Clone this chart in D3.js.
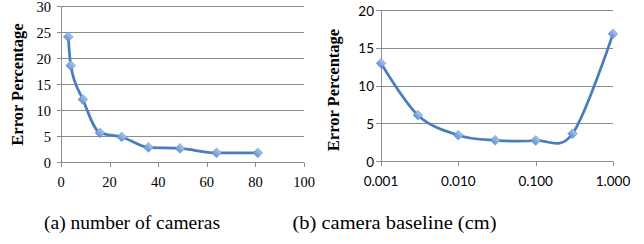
<!DOCTYPE html>
<html><head><meta charset="utf-8">
<script src="https://cdn.jsdelivr.net/npm/d3@7"></script>
<style>body{margin:0;background:#fff}svg{display:block}</style>
</head><body>
<script>
// Chart (a): number of cameras
const camCounts = [3, 4, 9, 16, 25, 36, 49, 64, 81];
const camErrors = [24.0, 18.5, 12.0, 5.6, 4.8, 2.8, 2.6, 1.75, 1.75];
const camXTicks = [0, 20, 40, 60, 80, 100];
const camYTicks = [0, 5, 10, 15, 20, 25, 30];
// Chart (b): camera baseline (cm)
const baselines = [0.001, 0.003, 0.01, 0.03, 0.1, 0.3, 1.0];
const baseErrors = [12.95, 6.1, 3.45, 2.78, 2.75, 3.65, 16.85];
const baseXTicks = [0.001, 0.01, 0.1, 1.0];
const baseYTicks = [0, 5, 10, 15, 20];
const captions = ["(a) number of cameras", "(b) camera baseline (cm)"];
const yTitle = "Error Percentage";

const W = 644, H = 244;
const svg = d3.select("body").append("svg").attr("width", W).attr("height", H);
const gridCol = "#8c8c8c", lineCol = "#4a7ebb";
const SERIF = "'Liberation Serif', 'Times New Roman', serif";

const defs = svg.append("defs");
const grad = defs.append("linearGradient").attr("id","mg").attr("x1",0).attr("y1",0).attr("x2",0).attr("y2",1);
grad.append("stop").attr("offset","0%").attr("stop-color","#a4c6ee");
grad.append("stop").attr("offset","100%").attr("stop-color","#6593d2");

function drawChart(o) {
  const g = svg.append("g");
  const x = o.x, y = o.y;
  g.selectAll(".grid").data(o.yTicks).join("line")
    .attr("x1", x.range()[0] - o.ytick).attr("x2", x.range()[1])
    .attr("y1", d => Math.round(y(d)) + 0.5).attr("y2", d => Math.round(y(d)) + 0.5)
    .attr("stroke", gridCol).attr("stroke-width", 1);
  g.append("line").attr("x1", Math.round(x.range()[0]) + 0.5).attr("x2", Math.round(x.range()[0]) + 0.5)
    .attr("y1", Math.round(y.range()[0]) + 0.5).attr("y2", Math.round(y.range()[1]) + 0.5).attr("stroke", gridCol);
  g.selectAll(".xt").data(o.xTicks).join("line")
    .attr("x1", d => Math.round(x(d)) + 0.5).attr("x2", d => Math.round(x(d)) + 0.5)
    .attr("y1", Math.round(y(0)) + 0.5).attr("y2", Math.round(y(0)) + 5).attr("stroke", gridCol);
  g.selectAll(".yl").data(o.yTicks).join("text")
    .attr("x", o.yLabelX).attr("y", d => y(d)).attr("dy", "0.42em")
    .attr("text-anchor", "end").attr("font-family", o.tickFamily).attr("font-size", o.tickSize)
    .attr("fill", "#000").text(d => d);
  g.selectAll(".xl").data(o.xTicks).join("text")
    .attr("x", d => x(d)).attr("y", o.xLabelY)
    .attr("text-anchor", "middle").attr("font-family", o.tickFamily).attr("font-size", o.tickSize)
    .attr("fill", "#000").text(o.xFmt);
  g.append("text").attr("transform", `translate(${o.titleX},${o.titleY}) rotate(-90)`)
    .attr("text-anchor", "middle").attr("font-family", SERIF).attr("font-weight", "bold")
    .attr("font-size", 16.5).text(yTitle);
  const pts = o.xs.map((d, i) => [x(d), y(o.ys[i])]);
  g.append("path").attr("d", d3.line().curve(o.curve)(pts))
    .attr("fill", "none").attr("stroke", lineCol).attr("stroke-width", 2.75)
    .attr("stroke-linejoin", "round");
  g.selectAll(".m").data(pts).join("path")
    .attr("d", d3.symbol(d3.symbolSquare, 48)())
    .attr("transform", d => `translate(${d[0]},${d[1]}) rotate(45)`)
    .attr("fill", "url(#mg)").attr("stroke", "#5b8ccc").attr("stroke-width", 0.5);
  svg.append("text").attr("x", o.capX).attr("y", 229).attr("text-anchor", "middle")
    .attr("font-family", SERIF).attr("font-size", 19)
    .attr("textLength", o.capW).attr("lengthAdjust", "spacingAndGlyphs").text(o.caption);
}

drawChart({
  x: d3.scaleLinear().domain([0, 100]).range([61, 304]),
  y: d3.scaleLinear().domain([0, 30]).range([162, 5.5]),
  xs: camCounts, ys: camErrors, xTicks: camXTicks, yTicks: camYTicks,
  xFmt: d => d, tickFamily: SERIF, tickSize: 14.5,
  yLabelX: 51, xLabelY: 187, ytick: 4, titleX: 23, titleY: 84.5,
  curve: d3.curveMonotoneX, caption: captions[0], capX: 132, capW: 176
});
drawChart({
  x: d3.scaleLog().domain([0.001, 1]).range([381, 613]),
  y: d3.scaleLinear().domain([0, 20]).range([161.3, 10]),
  xs: baselines, ys: baseErrors, xTicks: baseXTicks, yTicks: baseYTicks,
  xFmt: d => d3.format(".3f")(d), tickFamily: "Lato, Carlito, sans-serif", tickSize: 13.5,
  yLabelX: 374, xLabelY: 186, ytick: 5, titleX: 339, titleY: 90,
  curve: d3.curveCardinal.tension(0), caption: captions[1], capX: 394.5, capW: 204
});
</script>
</body></html>
